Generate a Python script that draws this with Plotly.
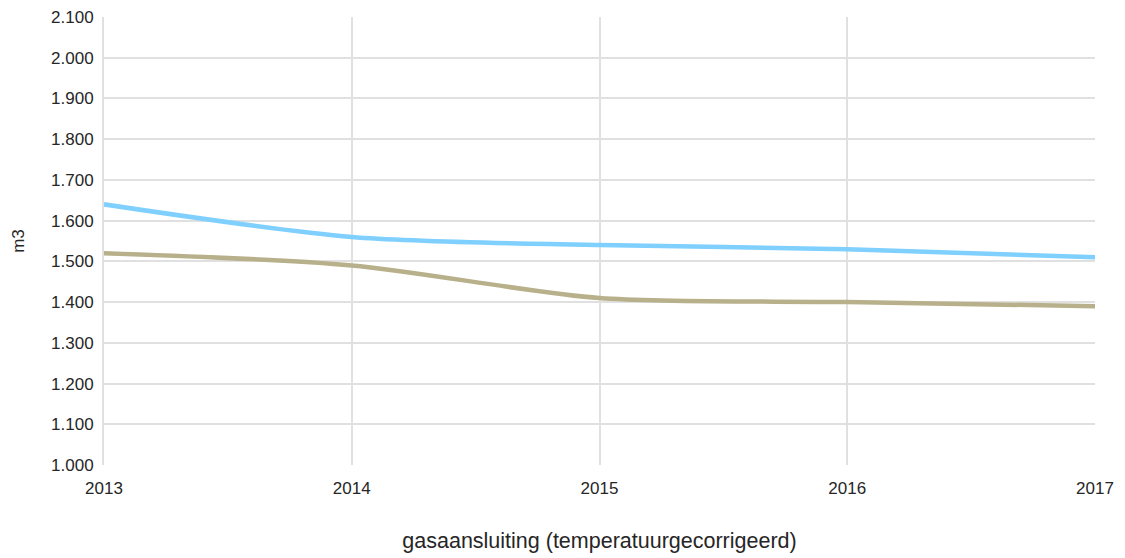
import plotly.graph_objects as go

years = [2013, 2014, 2015, 2016, 2017]
series_blue = [1640, 1560, 1540, 1530, 1510]
series_olive = [1520, 1490, 1410, 1400, 1390]
y_ticks = [1000, 1100, 1200, 1300, 1400, 1500, 1600, 1700, 1800, 1900, 2000, 2100]

fig = go.Figure()
fig.add_trace(go.Scatter(x=years, y=series_olive, mode="lines",
                         line=dict(color="#b7b08a", width=4.5, shape="spline", smoothing=0.8),
                         showlegend=False))
fig.add_trace(go.Scatter(x=years, y=series_blue, mode="lines",
                         line=dict(color="#7fcfff", width=4.5, shape="spline", smoothing=0.8),
                         showlegend=False))

txt = "#262626"
fig.update_layout(
    width=1125, height=558,
    margin=dict(l=104, r=30, t=17, b=93),
    paper_bgcolor="white", plot_bgcolor="white",
    separators=",.",
    font=dict(family="Liberation Sans, Arial, sans-serif", size=17, color=txt),
    xaxis=dict(range=[2013, 2017], tickvals=years, ticktext=[str(y) for y in years],
               automargin=False,
               showgrid=True, gridcolor="#e0e0e0", gridwidth=2, zeroline=False,
               showline=False, ticks="outside", ticklen=8, tickcolor="rgba(0,0,0,0)",
               tickfont=dict(size=17, color=txt),
               title=dict(text="gasaansluiting (temperatuurgecorrigeerd)", standoff=35,
                          font=dict(size=21.5, color=txt))),
    yaxis=dict(range=[1000, 2100], tickvals=y_ticks, tickformat=",d",
               automargin=False,
               showgrid=True, gridcolor="#e0e0e0", gridwidth=2, zeroline=False,
               showline=True, linecolor="#e0e0e0", linewidth=2,
               ticks="outside", ticklen=5, tickcolor="rgba(0,0,0,0)",
               tickfont=dict(size=17, color=txt),
               title=dict(text="m3", standoff=22, font=dict(size=17, color=txt))),
)

fig.write_html("out.html", config={"displayModeBar": False},
               post_script="document.body.style.margin='0';")
